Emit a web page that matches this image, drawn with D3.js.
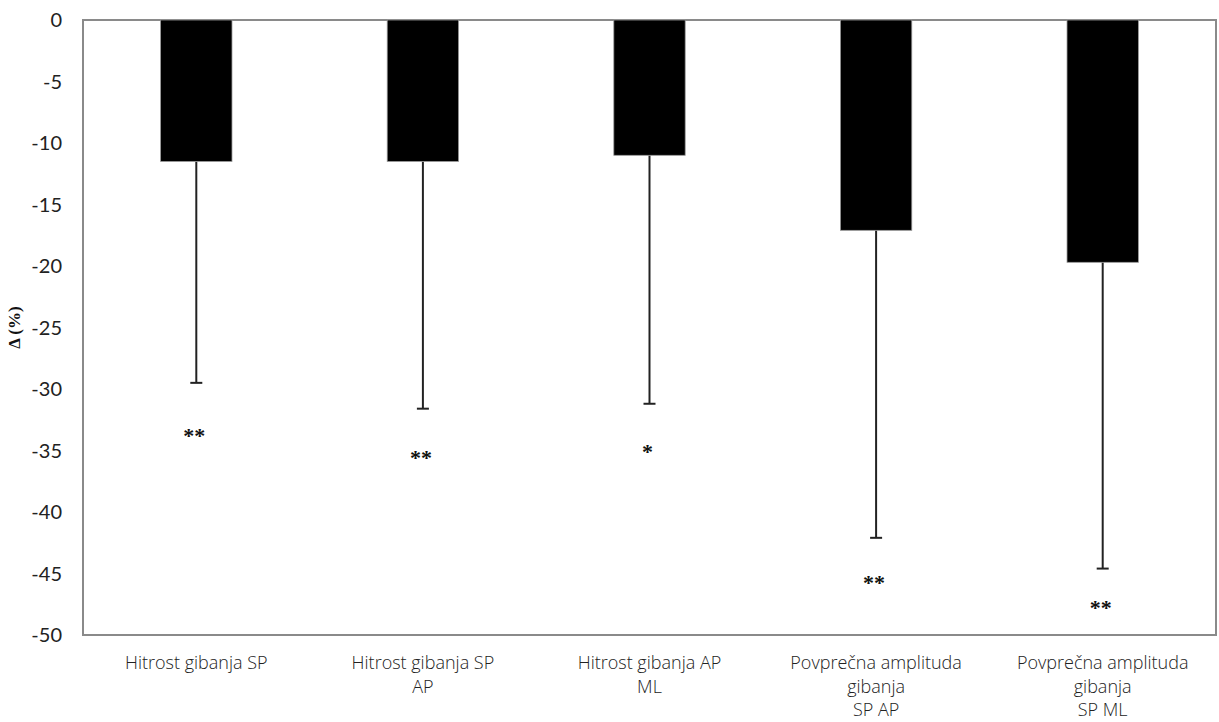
<!DOCTYPE html>
<html>
<head>
<meta charset="utf-8">
<script src="https://cdn.jsdelivr.net/npm/d3@7"></script>
<style>
body { margin: 0; background: #fff; }
</style>
</head>
<body>
<svg id="chart" width="1219" height="722"></svg>
<script>
// chart data
const categories = [
    ["Hitrost gibanja SP"],
    ["Hitrost gibanja SP", "AP"],
    ["Hitrost gibanja AP", "ML"],
    ["Povprečna amplituda", "gibanja", "SP AP"],
    ["Povprečna amplituda", "gibanja", "SP ML"]
];
const means = [-11.5, -11.5, -11.0, -17.1, -19.7];
const errorEnds = [-29.5, -31.6, -31.2, -42.1, -44.6];
const stars = ["**", "**", "*", "**", "**"];
const starPos = [-33.6, -35.4, -34.9, -45.5, -47.6];
const yTicks = [0, -5, -10, -15, -20, -25, -30, -35, -40, -45, -50];

const svg = d3.select("#chart");
const plotLeft = 83, plotTop = 20, plotRight = 1216, plotBottom = 635;

const x = d3.scaleBand()
    .domain(d3.range(categories.length))
    .range([plotLeft, plotRight])
    .paddingInner(0.685)
    .paddingOuter(0.3425);

const y = d3.scaleLinear().domain([0, -50]).range([plotTop, plotBottom]);

// frame
svg.append("rect")
    .attr("x", plotLeft).attr("y", plotTop)
    .attr("width", plotRight - plotLeft).attr("height", plotBottom - plotTop)
    .attr("fill", "none").attr("stroke", "#8a8a8a").attr("stroke-width", 2);

// y tick labels
svg.append("g").selectAll("text")
    .data(yTicks)
    .enter().append("text")
    .attr("x", 62)
    .attr("y", d => y(d))
    .attr("dy", "0.35em")
    .attr("text-anchor", "end")
    .attr("font-family", "Lato, sans-serif")
    .attr("font-size", 20)
    .attr("fill", "#222")
    .text(d => d);

// axis title
svg.append("text")
    .attr("transform", "translate(20," + ((plotTop + plotBottom) / 2) + ") rotate(-90)")
    .attr("text-anchor", "middle")
    .attr("font-family", "'Liberation Serif', serif")
    .attr("font-weight", "bold")
    .attr("font-size", 17)
    .attr("fill", "#111")
    .text("Δ (%)");

const cx = i => x(i) + x.bandwidth() / 2;

// error bars
const err = svg.append("g").attr("stroke", "#222").attr("stroke-width", 2);
err.selectAll("line.v")
    .data(errorEnds)
    .enter().append("line")
    .attr("x1", (d, i) => cx(i)).attr("x2", (d, i) => cx(i))
    .attr("y1", (d, i) => y(means[i])).attr("y2", d => y(d));
err.selectAll("line.c")
    .data(errorEnds)
    .enter().append("line")
    .attr("x1", (d, i) => cx(i) - 6).attr("x2", (d, i) => cx(i) + 6)
    .attr("y1", d => y(d)).attr("y2", d => y(d));

// bars
svg.append("g").selectAll("rect")
    .data(means)
    .enter().append("rect")
    .attr("x", (d, i) => x(i))
    .attr("y", y(0))
    .attr("width", x.bandwidth())
    .attr("height", d => y(d) - y(0))
    .attr("fill", "#000")
    .attr("stroke", "#999")
    .attr("stroke-width", 0.8);

// significance stars
svg.append("g").selectAll("text")
    .data(stars)
    .enter().append("text")
    .attr("x", (d, i) => cx(i) - 2)
    .attr("y", (d, i) => y(starPos[i]))
    .attr("dy", "0.45em")
    .attr("text-anchor", "middle")
    .attr("font-family", "'Liberation Serif', serif")
    .attr("font-weight", "bold")
    .attr("font-size", 22)
    .attr("fill", "#111")
    .text(d => d);

// category labels
const labels = svg.append("g").selectAll("text")
    .data(categories)
    .enter().append("text")
    .attr("text-anchor", "middle")
    .attr("font-family", "'Open Sans', sans-serif")
    .attr("font-weight", 300)
    .attr("font-size", 18)
    .attr("fill", "#222");
labels.selectAll("tspan")
    .data((d, i) => d.map(t => ({ t: t, i: i })))
    .enter().append("tspan")
    .attr("x", d => cx(d.i))
    .attr("y", (d, j) => 669 + j * 23.5)
    .text(d => d.t);
</script>
</body>
</html>
